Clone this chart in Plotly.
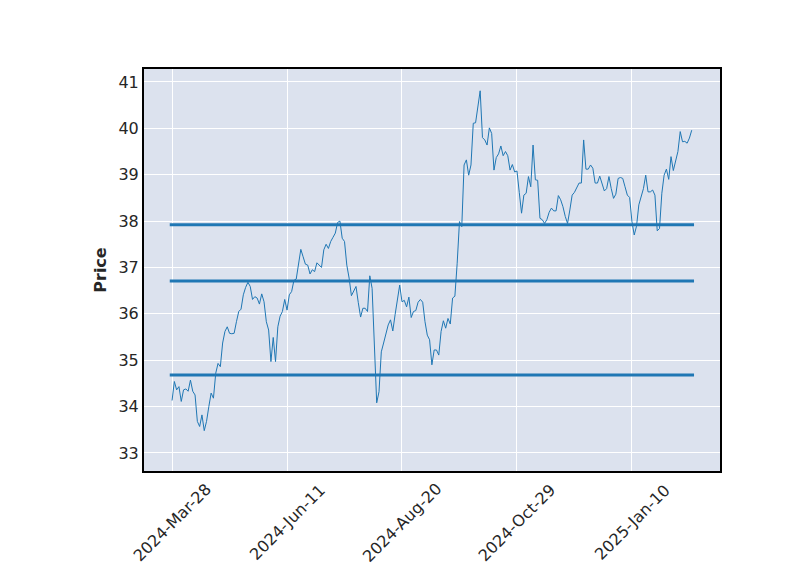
import plotly.graph_objects as go

prices = [
    34.13, 34.54, 34.36, 34.43, 34.11, 34.36, 34.38, 34.33, 34.57, 34.33,
    34.25, 33.68, 33.57, 33.82, 33.48, 33.68, 34.00, 34.29, 34.18, 34.72,
    34.93, 34.86, 35.37, 35.62, 35.72, 35.58, 35.57, 35.58, 35.83, 36.05,
    36.10, 36.41, 36.57, 36.68, 36.59, 36.31, 36.37, 36.34, 36.21, 36.43,
    36.26, 35.83, 35.65, 34.97, 35.49, 34.97, 35.72, 35.95, 36.05, 36.31,
    36.08, 36.41, 36.48, 36.72, 36.75, 37.09, 37.39, 37.23, 37.07, 37.05,
    36.86, 36.95, 36.91, 37.10, 37.05, 37.00, 37.38, 37.50, 37.41, 37.56,
    37.65, 37.74, 37.97, 38.00, 37.63, 37.56, 37.05, 36.77, 36.39, 36.48,
    36.59, 36.24, 35.93, 36.12, 36.12, 36.05, 36.82, 36.55, 35.22, 34.08,
    34.32, 35.18, 35.37, 35.58, 35.76, 35.87, 35.63, 35.98, 36.34, 36.62,
    36.26, 36.29, 36.15, 36.36, 35.92, 36.05, 36.07, 36.25, 36.31, 36.25,
    35.83, 35.54, 35.44, 34.90, 35.22, 35.22, 35.11, 35.62, 35.85, 35.69,
    35.90, 35.78, 36.34, 36.38, 37.09, 37.99, 37.88, 39.21, 39.32, 38.99,
    39.21, 40.11, 40.12, 40.43, 40.81, 39.80, 39.75, 39.64, 40.01, 39.89,
    39.10, 39.37, 39.45, 39.62, 39.41, 39.50, 39.41, 39.10, 39.22, 39.06,
    39.08, 38.62, 38.17, 38.56, 38.60, 38.96, 38.74, 39.64, 38.89, 38.88,
    38.06, 38.03, 37.95, 38.03, 38.19, 38.28, 38.22, 38.22, 38.55, 38.46,
    38.31, 38.10, 37.95, 38.24, 38.56, 38.62, 38.71, 38.82, 38.82, 39.75,
    39.12, 39.12, 39.21, 39.14, 38.82, 38.82, 38.97, 38.78, 38.65, 38.70,
    38.96, 38.70, 38.49, 38.58, 38.92, 38.94, 38.92, 38.74, 38.56, 38.51,
    37.99, 37.70, 37.89, 38.35, 38.51, 38.70, 38.99, 38.63, 38.63, 38.67,
    38.56, 37.79, 37.84, 38.60, 38.99, 39.12, 38.90, 39.39, 39.09, 39.32,
    39.50, 39.93, 39.71, 39.72, 39.68, 39.79, 39.96,
]

hline_levels = [37.92, 36.71, 34.68]

tick_positions = [0, 50, 100, 150, 200]
tick_labels = ["2024-Mar-28", "2024-Jun-11", "2024-Aug-20", "2024-Oct-29", "2025-Jan-10"]

y_ticks = [33, 34, 35, 36, 37, 38, 39, 40, 41]

n = len(prices)
idx = list(range(n))

fig = go.Figure()
fig.add_trace(go.Scatter(
    x=idx, y=prices, mode="lines",
    line=dict(color="#1f77b4", width=1),
    showlegend=False, hoverinfo="skip",
))
for lvl in hline_levels:
    fig.add_trace(go.Scatter(
        x=[-1, n], y=[lvl, lvl], mode="lines",
        line=dict(color="#1f77b4", width=3),
        showlegend=False, hoverinfo="skip",
    ))

text_color = "#262626"
# x tick labels rotated 45 degrees, centred under each tick (matplotlib-like)
for pos, lab in zip(tick_positions, tick_labels):
    fig.add_annotation(
        x=pos, xref="x", y=-0.127, yref="paper",
        text=lab, textangle=-45, showarrow=False,
        xanchor="center", yanchor="middle",
        font=dict(family="DejaVu Sans", size=16, color=text_color),
    )

fig.update_layout(
    width=800, height=575,
    margin=dict(l=144, r=80, t=69, b=104),
    paper_bgcolor="white",
    plot_bgcolor="#dce2ee",
    font=dict(family="DejaVu Sans", color=text_color),
)
fig.update_xaxes(
    range=[-12.2, 238.3],
    tickmode="array", tickvals=tick_positions, ticktext=tick_labels,
    showticklabels=False,
    showgrid=True, gridcolor="white", gridwidth=1,
    showline=True, linecolor="black", linewidth=2, mirror=True,
    zeroline=False, ticks="",
)
fig.update_yaxes(
    range=[32.61, 41.28],
    tickmode="array", tickvals=y_ticks,
    tickfont=dict(family="DejaVu Sans", size=16, color=text_color),
    showgrid=True, gridcolor="white", gridwidth=1,
    showline=True, linecolor="black", linewidth=2, mirror=True,
    zeroline=False, ticks="",
    title=dict(text="<b>Price</b>", font=dict(family="DejaVu Sans", size=16, color=text_color), standoff=8),
)

fig.write_html("out.html")
